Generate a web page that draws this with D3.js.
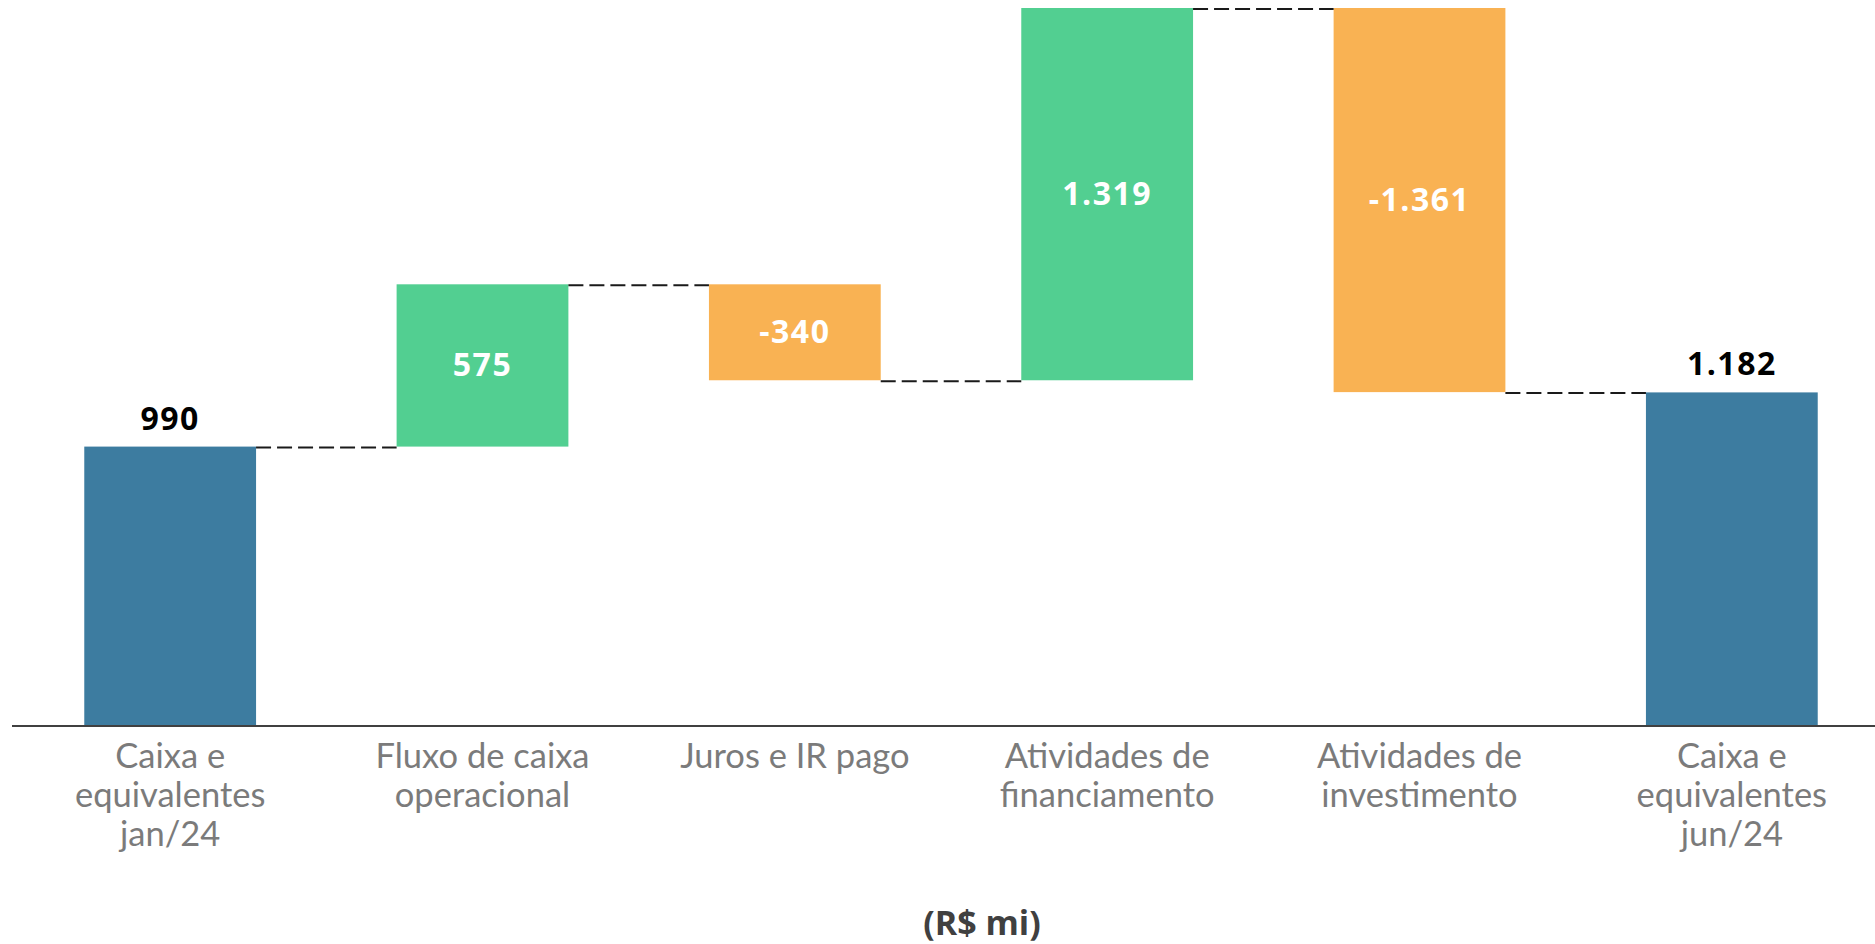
<!DOCTYPE html>
<html>
<head>
<meta charset="utf-8">
<script src="https://cdn.jsdelivr.net/npm/d3@7"></script>
<style>
  html, body { margin: 0; padding: 0; background: #ffffff; }
  svg { display: block; }
</style>
</head>
<body>
<svg id="chart" width="1875" height="944"></svg>
<script>
// ---- data ----
const categories = [
  "Caixa e\nequivalentes\njan/24",
  "Fluxo de caixa\noperacional",
  "Juros e IR pago",
  "Atividades de\nfinanciamento",
  "Atividades de\ninvestimento",
  "Caixa e\nequivalentes\njun/24"
];
const values = [990, 575, -340, 1319, -1361, 1182];
const kinds = ["total", "delta", "delta", "delta", "delta", "total"];
const unitLabel = "(R$ mi)";

// ---- build waterfall table ----
let cum = 0;
const rows = categories.map((c, i) => {
  let start, end;
  if (kinds[i] === "total") { start = 0; end = values[i]; cum = values[i]; }
  else { start = cum; end = cum + values[i]; cum = end; }
  return { cat: c, value: values[i], kind: kinds[i], start, end };
});

const fmt = d3.formatLocale({ decimal: ",", thousands: ".", grouping: [3], currency: ["R$", ""], minus: "-" }).format(",d");

const svg = d3.select("#chart");
const W = 1875, H = 944;
const baseY = 726;

const x = d3.scaleBand()
  .domain(categories)
  .range([14, 1888])
  .paddingInner(0.45)
  .paddingOuter(0.225);

const y = d3.scaleLinear()
  .domain([0, d3.max(rows, d => Math.max(d.start, d.end))])
  .range([baseY, 8]);

const color = d => d.kind === "total" ? "#3d7ca0" : (d.value >= 0 ? "#52cf91" : "#f9b253");

// bars
svg.append("g").selectAll("rect").data(rows).join("rect")
  .attr("x", d => x(d.cat))
  .attr("width", x.bandwidth())
  .attr("y", d => y(Math.max(d.start, d.end)))
  .attr("height", d => Math.abs(y(d.start) - y(d.end)))
  .attr("fill", color);

// connectors
const conns = rows.slice(0, -1).map((d, i) => ({ from: d, to: rows[i + 1], level: d.end }));
svg.append("g").selectAll("line").data(conns).join("line")
  .attr("x1", d => x(d.from.cat) + x.bandwidth())
  .attr("x2", d => x(d.to.cat))
  .attr("y1", d => y(d.level) + 1)
  .attr("y2", d => y(d.level) + 1)
  .attr("stroke", "#1a1a1a")
  .attr("stroke-width", 2)
  .attr("stroke-dasharray", "15,6");

// baseline axis
const xAxis = d3.axisBottom(x).tickSize(0).tickFormat("");
const axisG = svg.append("g").attr("transform", `translate(0,${baseY})`).call(xAxis);
axisG.select(".domain").remove();
axisG.append("line")
  .attr("x1", 12).attr("x2", W)
  .attr("y1", 0).attr("y2", 0)
  .attr("stroke", "#404040").attr("stroke-width", 2);

// category labels
axisG.selectAll(".tick").each(function(cat) {
  const t = d3.select(this).append("text")
    .attr("text-anchor", "middle")
    .attr("fill", "#7b7b7b")
    .style("font-family", "Lato, 'Open Sans', sans-serif")
    .style("font-size", "34.5px");
  cat.split("\n").forEach((line, j) => {
    t.append("tspan").attr("x", 0).attr("y", 42 + j * 39).text(line);
  });
});

// value labels
svg.append("g").selectAll("text").data(rows).join("text")
  .attr("x", d => x(d.cat) + x.bandwidth() / 2)
  .attr("y", d => d.kind === "total"
      ? y(d.end) - 17
      : (y(d.start) + y(d.end)) / 2 + 11)
  .attr("text-anchor", "middle")
  .attr("fill", d => d.kind === "total" ? "#000000" : "#ffffff")
  .style("font-family", "'Open Sans', sans-serif")
  .style("font-weight", 700)
  .style("font-size", "32px")
  .style("letter-spacing", "1.5px")
  .text(d => fmt(d.value));

// unit label
svg.append("text")
  .attr("x", 982).attr("y", 935)
  .attr("text-anchor", "middle")
  .attr("fill", "#404040")
  .style("font-family", "'Open Sans', sans-serif")
  .style("font-weight", 700)
  .style("font-size", "34px")
  .text(unitLabel);
</script>
</body>
</html>
